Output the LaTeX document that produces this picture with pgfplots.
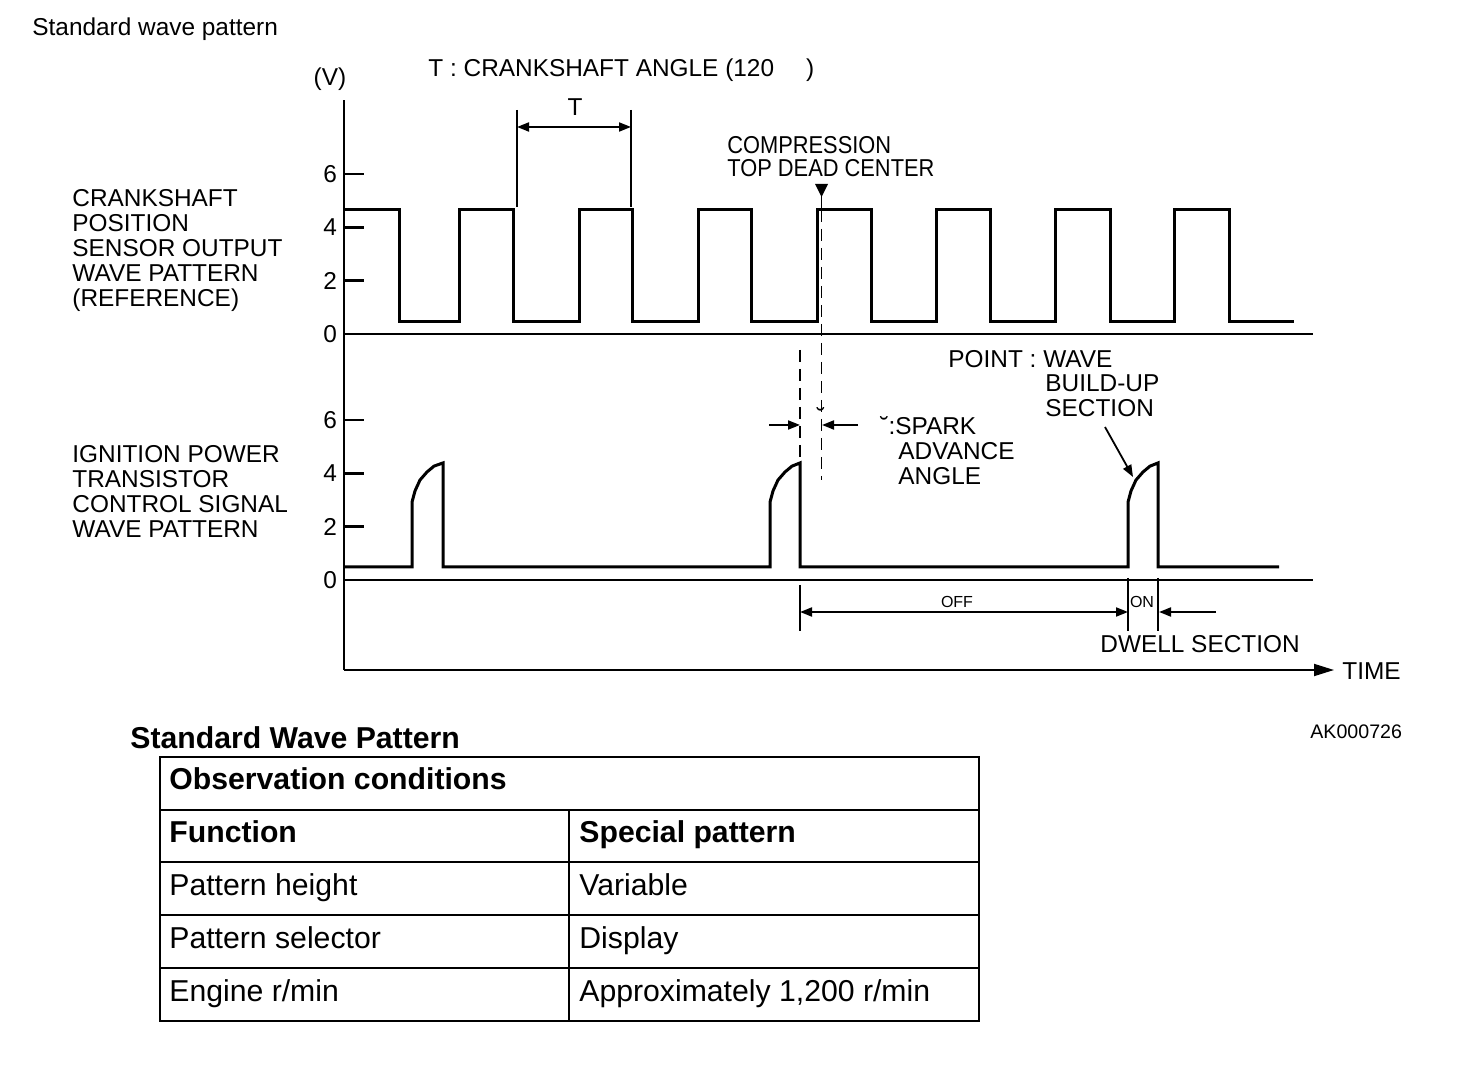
\documentclass[border=0pt]{standalone}
\usepackage{pgfplots}
\usepackage{pgfplotstable}
\pgfplotsset{compat=1.18}
\usepackage{fontspec}
\setmainfont{Liberation Sans}
\usetikzlibrary{arrows.meta}

\newcommand{\lab}{\fontsize{12.2}{14}\selectfont}
\newcommand{\tabf}{\fontsize{15.1}{18}\selectfont}
\newcommand{\smallf}{\fontsize{8}{9}\selectfont}

\pgfplotstableread{
t v
0 4.65
55 4.65
55 0.45
115 0.45
115 4.65
169 4.65
169 0.45
235 0.45
235 4.65
288 4.65
288 0.45
354 0.45
354 4.65
407 4.65
407 0.45
473 0.45
473 4.65
527 4.65
527 0.45
592 0.45
592 4.65
646 4.65
646 0.45
711 0.45
711 4.65
766 4.65
766 0.45
830 0.45
830 4.65
885 4.65
885 0.45
950 0.45
}\crank

\pgfplotstableread{
t v
0 0.49
68 0.49
68 2.92
71 3.34
76 3.75
83 4.05
90 4.27
99 4.39
99 0.49
426 0.49
426 2.92
429 3.34
434 3.75
441 4.05
448 4.27
456 4.39
456 0.49
784 0.49
784 2.92
787 3.34
792 3.75
799 4.05
806 4.27
814 4.39
814 0.49
935 0.49
}\ign

\begin{document}
\begin{tikzpicture}
\begin{scope}[x=0.5pt,y=-0.5pt]
\path[use as bounding box] (0,0) rectangle (1472,1074);
\end{scope}

\begin{axis}[at={(172pt,-335pt)}, anchor=south west, scale only axis,
  width=494.5pt, height=285pt, xmin=0, xmax=989, ymin=-3.375, ymax=18,
  clip=false, axis x line=none, axis y line*=left,
  xtick=\empty, ytick={0,2,4,6,9.225,11.225,13.225,15.225},
  yticklabels={0,2,4,6,0,2,4,6},
  tick align=inside, major tick length=10pt,
  y axis line style={line width=0.9pt},
  ytick style={line width=1.2pt, black},
  yticklabel style={font=\lab}]
\addplot[black, line width=1.5pt, mark=none] table[x=t, y expr=\thisrow{v}+9.225] {\crank};
\addplot[black, line width=1.5pt, mark=none] table[x=t, y=v] {\ign};
\end{axis}

\begin{scope}[x=0.5pt,y=-0.5pt, >={Triangle[length=6pt,width=4.5pt]}]
% baselines
\draw[line width=0.9pt] (344,334) -- (1313,334);
\draw[line width=0.9pt] (344,580) -- (1313,580);
% time axis
\draw[line width=0.9pt, -{Triangle[length=10pt,width=6pt]}] (344,670) -- (1334,670);
\node[anchor=base west, font=\lab, inner sep=0] at (1342,679) {TIME};

% titles
\node[anchor=base west, font=\lab, inner sep=0] at (32,36) {Standard wave pattern};
\node[anchor=base, font=\lab, inner sep=0] at (330,86) {(V)};
\node[anchor=base west, font=\lab, inner sep=0] at (428,77) {T : CRANKSHAFT ANGLE (120\hspace{16pt})};

% T markers
\draw[line width=0.9pt] (517,110) -- (517,207);
\draw[line width=0.9pt] (631,110) -- (631,207);
\draw[line width=0.9pt, <->] (517,127) -- (631,127);
\node[anchor=base, font=\lab, inner sep=0] at (575,116) {T};

% left labels
\foreach \t [count=\i from 0] in {CRANKSHAFT, POSITION, SENSOR OUTPUT, WAVE PATTERN, (REFERENCE)}
  \node[anchor=base west, font=\lab, inner sep=0] at (72,207+25*\i) {\t};
\foreach \t [count=\i from 0] in {IGNITION POWER, TRANSISTOR, CONTROL SIGNAL, WAVE PATTERN}
  \node[anchor=base west, font=\lab, inner sep=0] at (72,463+25*\i) {\t};

% TDC
\node[anchor=base west, font=\lab, inner sep=0, xscale=0.895] at (727,154) {COMPRESSION};
\node[anchor=base west, font=\lab, inner sep=0, xscale=0.895] at (727,177) {TOP DEAD CENTER};
\fill (815,184) -- (828,184) -- (821.5,197) -- cycle;
\draw[line width=0.9pt] (821.5,196) -- (821.5,208);
\draw[line width=0.9pt, dash pattern=on 6pt off 3.5pt] (821.5,210) -- (821.5,480);
\draw[line width=0.9pt, dash pattern=on 6pt off 3.5pt] (800,350) -- (800,462);

% spark advance
\draw[line width=0.9pt, ->] (769,425) -- (800,425);
\draw[line width=0.9pt, ->] (858,425) -- (822,425);
\node[anchor=base, font=\lab, inner sep=0] at (821,426) {˘};
\node[anchor=base west, font=\lab, inner sep=0] at (880,435) {˘:SPARK};
\node[anchor=base west, font=\lab, inner sep=0] at (898,460) {ADVANCE};
\node[anchor=base west, font=\lab, inner sep=0] at (898,485) {ANGLE};

% point
\node[anchor=base west, font=\lab, inner sep=0] at (948,368) {POINT : WAVE};
\node[anchor=base west, font=\lab, inner sep=0] at (1045,392) {BUILD-UP};
\node[anchor=base west, font=\lab, inner sep=0] at (1045,417) {SECTION};
\draw[line width=0.9pt, ->] (1105,427) -- (1133,477);

% dwell
\draw[line width=0.9pt] (800,585) -- (800,631);
\draw[line width=0.9pt] (1128,578) -- (1128,631);
\draw[line width=0.9pt] (1158,578) -- (1158,631);
\draw[line width=0.9pt, <->] (800,612) -- (1128,612);
\draw[line width=0.9pt, ->] (1216,612) -- (1159,612);
\node[font=\smallf, inner sep=0] at (957,602) {OFF};
\node[font=\smallf, inner sep=0] at (1142,602) {ON};
\node[anchor=base west, font=\lab, inner sep=0] at (1100,653) {DWELL SECTION};

\node[anchor=base west, font=\fontsize{9.8}{11}\selectfont, inner sep=0] at (1310,738) {AK000726};

% table
\node[anchor=base west, font=\tabf\bfseries, inner sep=0] at (130,748) {Standard Wave Pattern};
\draw[line width=1.1pt] (160,757) rectangle (979,1021);
\foreach \y in {810,862,915,968} \draw[line width=1.1pt] (160,\y) -- (979,\y);
\draw[line width=1.1pt] (569,810) -- (569,1021);
\node[anchor=base west, font=\tabf\bfseries, inner sep=0] at (169,789) {Observation conditions};
\node[anchor=base west, font=\tabf\bfseries, inner sep=0] at (169,842) {Function};
\node[anchor=base west, font=\tabf\bfseries, inner sep=0] at (579,842) {Special pattern};
\node[anchor=base west, font=\tabf, inner sep=0] at (169,895) {Pattern height};
\node[anchor=base west, font=\tabf, inner sep=0] at (579,895) {Variable};
\node[anchor=base west, font=\tabf, inner sep=0] at (169,948) {Pattern selector};
\node[anchor=base west, font=\tabf, inner sep=0] at (579,948) {Display};
\node[anchor=base west, font=\tabf, inner sep=0] at (169,1001) {Engine r/min};
\node[anchor=base west, font=\tabf, inner sep=0] at (579,1001) {Approximately 1,200 r/min};
\end{scope}
\end{tikzpicture}
\end{document}
